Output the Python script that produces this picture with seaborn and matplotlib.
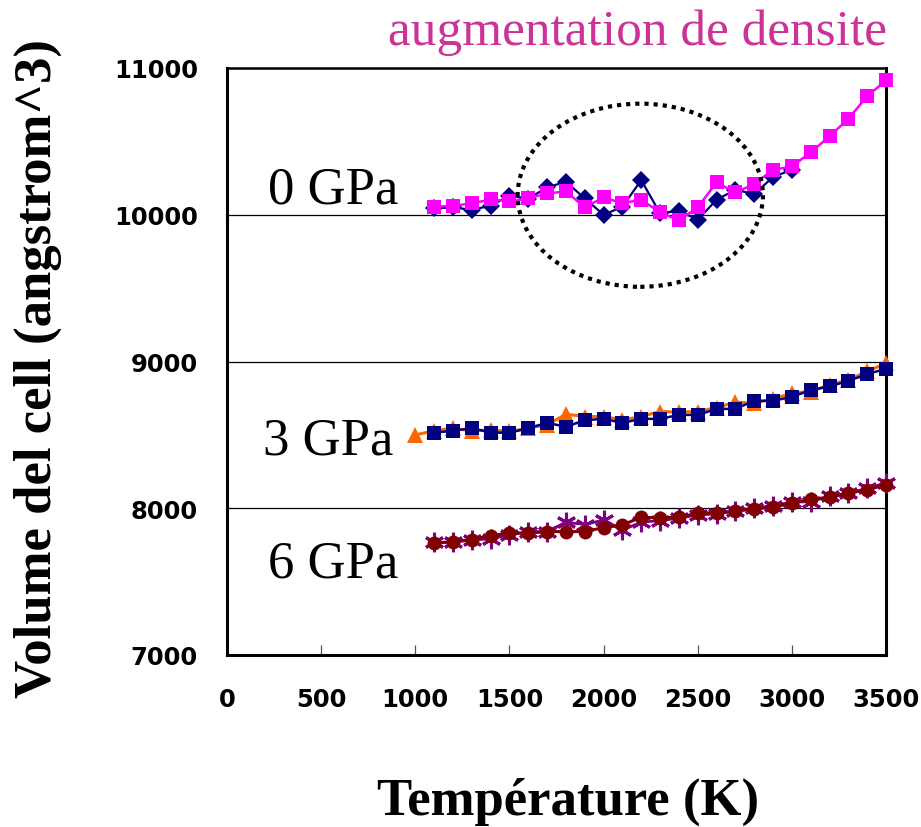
import matplotlib
matplotlib.use("Agg")
import matplotlib.pyplot as plt
import seaborn as sns
import pandas as pd
from matplotlib.patches import Ellipse

# ---- data ----
t_0gpa_a = [1100, 1200, 1300, 1400, 1500, 1600, 1700, 1800, 1900, 2000, 2100,
            2200, 2300, 2400, 2500, 2600, 2700, 2800, 2900, 3000]
v_0gpa_a = [10045, 10050, 10034, 10061, 10130, 10110, 10186, 10225, 10111, 10000,
            10054, 10236, 10010, 10027, 9966, 10102, 10170, 10141, 10257, 10307]

t_0gpa_b = [1100, 1200, 1300, 1400, 1500, 1600, 1700, 1800, 1900, 2000, 2100, 2200,
            2300, 2400, 2500, 2600, 2700, 2800, 2900, 3000, 3100, 3200, 3300, 3400, 3500]
v_0gpa_b = [10054, 10061, 10077, 10104, 10091, 10113, 10145, 10159, 10050, 10118,
            10079, 10102, 10016, 9961, 10050, 10220, 10152, 10209, 10307, 10329,
            10425, 10534, 10654, 10807, 10916]

t_3gpa_a = [1000, 1100, 1200, 1300, 1400, 1500, 1600, 1700, 1800, 1900, 2000, 2100,
            2200, 2300, 2400, 2500, 2600, 2700, 2800, 2900, 3000, 3100, 3200, 3300,
            3400, 3500]
v_3gpa_a = [8500, 8527, 8546, 8527, 8534, 8523, 8546, 8568, 8641, 8625, 8625, 8602,
            8625, 8659, 8655, 8659, 8686, 8723, 8716, 8746, 8784, 8795, 8841, 8875,
            8932, 8989]

t_3gpa_b = [1100, 1200, 1300, 1400, 1500, 1600, 1700, 1800, 1900, 2000, 2100, 2200,
            2300, 2400, 2500, 2600, 2700, 2800, 2900, 3000, 3100, 3200, 3300, 3400, 3500]
v_3gpa_b = [8516, 8527, 8546, 8516, 8514, 8546, 8582, 8555, 8600, 8609, 8582, 8609,
            8609, 8636, 8636, 8677, 8677, 8732, 8732, 8759, 8805, 8830, 8868, 8914, 8950]

t_6gpa = [1100, 1200, 1300, 1400, 1500, 1600, 1700, 1800, 1900, 2000, 2100, 2200,
          2300, 2400, 2500, 2600, 2700, 2800, 2900, 3000, 3100, 3200, 3300, 3400, 3500]
v_6gpa_star = [7768, 7768, 7784, 7791, 7818, 7841, 7841, 7905, 7889, 7920, 7852, 7905,
               7916, 7932, 7955, 7961, 7984, 8002, 8018, 8041, 8045, 8082, 8102, 8136, 8173]
v_6gpa_circ = [7761, 7773, 7786, 7814, 7830, 7830, 7841, 7841, 7841, 7868, 7886, 7939,
               7934, 7939, 7966, 7966, 7980, 7995, 8007, 8036, 8061, 8075, 8102, 8127, 8159]

pressure_labels = ["0 GPa", "3 GPa", "6 GPa"]
x_ticks = [0, 500, 1000, 1500, 2000, 2500, 3000, 3500]
y_ticks = [7000, 8000, 9000, 10000, 11000]
title_text = "augmentation de densite"
xlabel_text = "Température (K)"
ylabel_text = "Volume del cell (angstrom^3)"

# ---- figure ----
sns.set_theme(style="white")
plt.rcParams['font.family'] = ['DejaVu Sans']
plt.rcParams['text.color'] = 'black'
plt.rcParams['axes.labelcolor'] = 'black'
plt.rcParams['xtick.color'] = 'black'
plt.rcParams['ytick.color'] = 'black'
W, H = 921, 828
fig = plt.figure(figsize=(W / 100, H / 100), dpi=100)
ax = fig.add_axes([227 / W, 1 - 656 / H, (886 - 227) / W, (656 - 69) / H])

def line(x, y, color, marker, ms, lw=1.6, mew=0, mec=None, z=2):
    sns.lineplot(x=x, y=y, ax=ax, color=color, marker=marker, markersize=ms,
                 linewidth=lw, markeredgewidth=mew,
                 markeredgecolor=mec if mec else color, zorder=z, legend=False,
                 clip_on=False)

serif = "Liberation Serif"

# 6 GPa
line(t_6gpa, v_6gpa_star, "#800080", (6, 2, 0), 14, lw=2.0, mew=2.2, z=3)
line(t_6gpa, v_6gpa_circ, "#800000", "o", 10, lw=2.2, z=4)
# 3 GPa
line(t_3gpa_a, v_3gpa_a, "#FF6600", "^", 11, lw=2.2, z=3)
line(t_3gpa_b, v_3gpa_b, "#000080", "s", 10, lw=1.8, z=4)
# 0 GPa
line(t_0gpa_a, v_0gpa_a, "#000080", "D", 9, lw=1.6, z=3)
line(t_0gpa_b, v_0gpa_b, "#FF00FF", "s", 10, lw=1.8, z=4)

ax.add_patch(Ellipse((2195, 10133), 1303, 1248, fill=False, edgecolor="black",
                     linestyle=(0, (1, 1.2)), linewidth=3.0, zorder=5))

ax.set_xlim(0, 3500)
ax.set_ylim(7000, 11000)
ax.set_xticks(x_ticks)
ax.set_yticks(y_ticks)
ax.set_xticklabels([str(v) for v in x_ticks])
ax.set_yticklabels([str(v) for v in y_ticks])
for g in [8000, 9000, 10000]:
    ax.axhline(g, color="black", linewidth=0.9, zorder=1)
for s in ax.spines.values():
    s.set_visible(True)
    s.set_color("black")
    s.set_linewidth(2.2)
    s.set_zorder(2.5)
ax.spines["top"].set_linewidth(1.8)
ax.tick_params(axis="x", direction="in", length=7, width=0.9, color="#555555",
               labelcolor="black", pad=23, labelsize=17.5, bottom=True)
ax.tick_params(axis="y", length=0, pad=21, labelsize=17.5, left=True,
               labelcolor="black")
for lab in ax.get_xticklabels() + ax.get_yticklabels():
    lab.set_fontweight("bold")
ax.set_xlabel("")
ax.set_ylabel("")

ax.text(564, 10085, pressure_labels[0], fontfamily=serif, fontsize=38,
        ha="center", va="baseline", color="black")
ax.text(537, 8375, pressure_labels[1], fontfamily=serif, fontsize=38,
        ha="center", va="baseline", color="black")
ax.text(564, 7538, pressure_labels[2], fontfamily=serif, fontsize=38,
        ha="center", va="baseline", color="black")

fig.text(887 / W, 1 - 45 / H, title_text, fontfamily=serif, fontsize=37,
         color="#CC3399", ha="right", va="baseline")
fig.text(568 / W, 1 - 815 / H, xlabel_text, fontfamily=serif, fontsize=38,
         fontweight="bold", ha="center", va="baseline", color="black")
fig.text(38 / W, 1 - 368 / H, ylabel_text, fontfamily=serif, fontsize=38,
         fontweight="bold", ha="center", va="center", rotation=90, color="black")

fig.savefig("out.png", dpi=100, facecolor="white")
